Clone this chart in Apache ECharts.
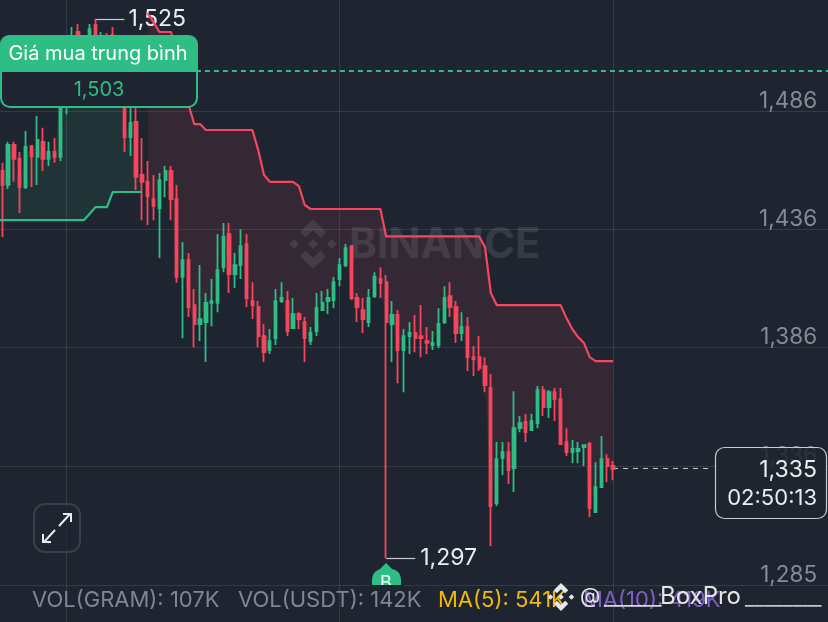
<!DOCTYPE html>
<html><head><meta charset="utf-8">
<style>html,body{margin:0;padding:0;background:#1e2530;overflow:hidden}#c{width:828px;height:622px}</style>
<script src="https://cdn.jsdelivr.net/npm/echarts@6/dist/echarts.min.js"></script>
</head><body><div id="c"></div>
<script>
// [open, close, low, high]; the first candle sits just off the left edge
const candles = [
[1463,1460.7,1452,1466],
[1460.7,1454.8,1432.8,1464.1],[1454.8,1471.7,1453.1,1473],[1471.7,1465.8,1456.1,1473],[1465.8,1453.9,1442.9,1468.7],
[1453.9,1470.8,1453.1,1477.6],[1471.2,1467,1453.9,1471.7],[1466.6,1473.8,1454.8,1483.9],[1473,1465.8,1460.7,1478.9],
[1465.8,1468.7,1462.8,1473],[1468.7,1466.6,1464.1,1474.6],[1466.6,1497.4,1464.9,1503.3],[1490.7,1497.4,1484.7,1500],
[1501.2,1515.2,1497,1521.5],[1519.4,1507.6,1503.3,1522.8],[1507.6,1513.9,1503.3,1516],[1513.9,1520.6,1509.7,1522.8],
[1522.3,1511.8,1506.7,1525],[1507.6,1516.8,1503.3,1519.4],[1517.3,1506.7,1501.2,1519],[1518.1,1505.4,1501.2,1521.5],
[1505.4,1497,1490.7,1509.7],[1494.9,1475,1468.7,1501.2],[1475,1481,1467,1492.8],[1481.4,1458.2,1452.6,1492.8],
[1459,1456.1,1439.9,1474.6],[1456.1,1450.1,1437.8,1464.9],[1448.8,1445.9,1439.9,1459],[1445,1456.8,1423.9,1459.8],
[1456.8,1460.7,1449.6,1462.8],[1460.7,1448.8,1439.9,1462.8],[1448.8,1415.9,1413.4,1454.8],[1415.9,1423,1390,1430.7],
[1423,1403.2,1399,1426],[1404,1396,1386.2,1410.8],[1396,1398.1,1388.8,1420.9],[1396.8,1404.9,1379.9,1409.1],
[1404.9,1405.7,1395.1,1415],[1404.9,1418.8,1401,1434],[1420,1432.8,1417.9,1438.7],[1434,1417.1,1409.1,1438.7],
[1417.1,1420.9,1411.2,1426],[1420.9,1428.9,1415,1436.1],[1429.8,1407,1403.2,1434],[1405.7,1404,1398.1,1413.7],
[1403.2,1390.9,1386.2,1405.7],[1390.9,1384.1,1379.9,1396],[1385,1388.8,1383.3,1393.9],[1390,1405.7,1387.1,1410.8],
[1405.7,1407,1404.9,1413.7],[1405.7,1393,1390.9,1409.9],[1394.3,1400.2,1393.9,1407],[1400.2,1398.1,1393.9,1401],
[1396.8,1390,1379.9,1399],[1388.8,1392.2,1387.1,1394.7],[1393,1402.7,1390.9,1409.1],[1401.9,1404.9,1401.9,1409.9],
[1405.7,1407,1400.2,1410.8],[1406.1,1413.7,1402.7,1415.9],[1415,1420.9,1412,1423.9],[1420.9,1428.1,1420,1429.8],
[1428.9,1407,1406.1,1428.9],[1407,1403.2,1396.8,1409.1],[1401.9,1398.1,1392.2,1407],[1396.8,1407,1394.7,1410.8],
[1407.8,1415.9,1407,1417.9],[1415,1413.4,1407,1420],[1413.7,1396.8,1297,1416.7],[1396,1399.8,1379.9,1405.7],
[1399.8,1385,1371,1401.9],[1385,1390.9,1367.2,1393.9],[1390.9,1392.2,1383.3,1396.8],[1392.2,1390,1384.1,1399.8],
[1390.9,1390,1382,1404],[1388.8,1388,1383.3,1394.7],[1387.1,1388,1385,1393],[1387.1,1396,1385.8,1402.7],
[1396.8,1407,1396,1412],[1407.8,1403.2,1399,1413.7],[1403.2,1392.2,1388,1405.7],[1392.2,1394.7,1388.8,1401],
[1394.7,1382,1376.1,1399],[1382,1381.2,1374,1386.7],[1382,1377.4,1376.1,1390.9],[1378.2,1370.2,1367.2,1382],
[1369,1319.1,1302.2,1374.9],[1320.3,1338.9,1319.1,1346.1],[1339.3,1341.9,1332.2,1346.1],[1341.9,1334.3,1328.4,1346.1],
[1335.1,1352,1325,1367.6],[1352,1354.1,1350.3,1357.1],[1354.6,1350.3,1346.1,1358],[1351.2,1355,1351.2,1358],
[1354.1,1368.1,1352,1369.8],[1368.1,1360.9,1357.1,1369.8],[1360.9,1367.2,1356.3,1368.1],[1367.2,1364.3,1355,1369],
[1364.3,1345.3,1345.3,1369],[1346.1,1341.9,1340.2,1352],[1341.9,1343.2,1337.2,1347],[1342.3,1343.2,1337.2,1346.1],
[1344,1344.8,1336,1344.8],[1345.3,1318.2,1314.4,1346.1],[1316.5,1327.1,1316.1,1337.6],[1327.1,1338.9,1327.1,1348.7],
[1338.9,1336,1329.2,1341],[1336,1334.7,1330,1338.1]
];
// green trailing line: first 26 candles
const greenLine = [1439.9,1439.9,1439.9,1439.9,1439.9,1439.9,1439.9,1439.9,1439.9,1439.9,1439.9,1439.9,1439.9,1439.9,1439.9,1439.9,
 1442.5,1445.4,1445.4,1445.4,1451.8,1451.8,1451.8,1451.8,1451.8,1451.8];
// red trailing line: remaining 81 candles
const redLine = [1527.4,1523.6,1519.4,1519.4,1519.4,1510.5,1499.9,1488.9,1480.5,1480.5,1478,
 1478,1478,1478,1478,1478,1478,1478,1478,1469.5,1459,1456.1,1456.1,1456.1,1456.1,1456.1,1454.3,1446.3,
 1444.6,1444.6,1444.6,1444.6,1444.6,1444.6,1444.6,1444.6,1444.6,1444.6,1444.6,1444.6,1444.6,
 1433,1433,1433,1433,1433,1433,1433,1433,1433,1433,1433,1433,1433,1433,1433,1433,1433,
 1428.5,1409.1,1404,1404,1404,1404,1404,1404,1404,1404,1404,1404,1404,1404,
 1398.5,1393.9,1390.5,1388,1382,1380.3,1380.3,1380.3,1380.3];
const redStart = greenLine.length;
const slotCount = 144;
const categories = Array.from({length: slotCount}, (_, i) => String(i));
const verticalGrid = [12, 59, 106];
const yTicks = [1285.7, 1336, 1386, 1436, 1486];
const yTickLabels = ['1,285', '1,336', '1,386', '1,436', '1,486'];
const avgPrice = 1503, highPrice = 1525, lowPrice = 1297, lastPrice = 1335;
const volumeItems = [
  {t:'VOL(GRAM): 107K', x:32, c:'#7f8794'},
  {t:'VOL(USDT): 142K', x:238, c:'#7f8794'},
  {t:'MA(5): 541K', x:438, c:'#f0b90b'},
  {t:'MA(10): 419K', x:583, c:'#7e5fc4'}
];
const FONT = 'Inter, "Noto Sans", sans-serif';
const BG = '#1e2530', GREEN = '#2ebd85', RED = '#f6465d';

const closes = candles.map(c => c[1]);
const pad = n => new Array(n).fill(null);
const greenBase = greenLine.slice();
const greenDiff = greenLine.map((v, i) => closes[i] - v);
const redOffset = pad(redStart);
const redBase = redOffset.concat(redLine.map((v, i) => closes[i + redStart]));
const redDiff = redOffset.concat(redLine.map((v, i) => v - closes[i + redStart]));
const redFull = redOffset.concat(redLine);

function logo(cx, cy, r, fill, z) {
  const shapes = [
    [[0,-1],[.52,-.48],[.3,-.26],[0,-.56],[-.3,-.26],[-.52,-.48]],
    [[0,1],[.52,.48],[.3,.26],[0,.56],[-.3,.26],[-.52,.48]],
    [[0,-.2],[.2,0],[0,.2],[-.2,0]],
    [[-.75,-.2],[-.55,0],[-.75,.2],[-.95,0]],
    [[.75,-.2],[.95,0],[.75,.2],[.55,0]]
  ];
  return shapes.map(s => ({type:'polygon', silent:true, z,
    shape:{points:s.map(p => [cx + p[0]*r, cy + p[1]*r])}, style:{fill}}));
}
const txt = (text, x, y, size, fill, align, z, extra) => ({type:'text', silent:true, z, x, y,
  style:Object.assign({text, fill, font:`${size}px ${FONT}`, align:align||'left', verticalAlign:'middle'}, extra||{})});

const graphics = [
  ...logo(313, 244, 25, 'rgba(255,255,255,0.1)', 1),
  txt('BINANCE', 349, 245, 42, 'rgba(255,255,255,0.1)', 'left', 1, {font:`700 42px ${FONT}`}),
  // buy marker
  {type:'polygon', silent:true, z:5, shape:{points:[[379,570],[386,563],[393,570]]}, style:{fill:GREEN}},
  {type:'rect', silent:true, z:5, shape:{x:372,y:569,width:29,height:20,r:[10,10,0,0]}, style:{fill:GREEN}},
  txt('B', 386, 584, 18, '#fff', 'center', 6),
  {type:'rect', silent:true, z:7, shape:{x:370,y:585,width:34,height:14}, style:{fill:BG}},
  // volume legend
  ...volumeItems.map(v => txt(v.t, v.x, 600, 22, v.c, 'left', 8)),
  // re-post overlay
  ...logo(561, 597, 14, '#e8e8e8', 9),
  txt('@', 580, 597, 21, '#e8e8e8', 'left', 9),
  txt('______', 604, 599, 21, '#dddddd', 'left', 9),
  txt('BoxPro', 660, 597, 24, '#e4e4e4', 'left', 9),
  txt('________', 745, 599, 21, '#c9c9c9', 'left', 9),
  // expand button
  {type:'rect', silent:true, z:8, shape:{x:34,y:504,width:46,height:48,r:11}, style:{fill:'rgba(30,37,48,.6)', stroke:'#3a404b', lineWidth:2}},
  {type:'polyline', silent:true, z:9, shape:{points:[[59,526],[70,514]]}, style:{stroke:'#eaecef', lineWidth:2, fill:null}},
  {type:'polyline', silent:true, z:9, shape:{points:[[63,514],[71,514],[71,522]]}, style:{stroke:'#eaecef', lineWidth:2, fill:null}},
  {type:'polyline', silent:true, z:9, shape:{points:[[55,530],[44,542]]}, style:{stroke:'#eaecef', lineWidth:2, fill:null}},
  {type:'polyline', silent:true, z:9, shape:{points:[[43,534],[43,542],[51,542]]}, style:{stroke:'#eaecef', lineWidth:2, fill:null}},
  // average-price card
  {type:'rect', silent:true, z:20, shape:{x:1,y:60,width:196,height:47,r:[0,0,9,9]}, style:{fill:BG, stroke:GREEN, lineWidth:2}},
  {type:'rect', silent:true, z:21, shape:{x:0,y:35,width:198,height:37,r:[9,9,0,0]}, style:{fill:GREEN}},
  txt('Giá mua trung bình', 98, 54, 20, '#ffffff', 'center', 22),
  txt('1,503', 99, 90, 20, GREEN, 'center', 22),
  // last-price card
  {type:'rect', silent:true, z:20, shape:{x:715.5,y:447.5,width:111,height:71,r:9}, style:{fill:'rgba(30,37,48,.86)', stroke:'#c7cbd1', lineWidth:1.2}},
  txt('1,335', 817, 470, 23, '#eaecef', 'right', 22),
  txt('02:50:13', 817, 498, 22, '#eaecef', 'right', 22)
];

const chart = echarts.init(document.getElementById('c'), null, {renderer:'canvas'});
chart.setOption({
  animation:false,
  backgroundColor:BG,
  grid:{left:-6.416, top:0, width:837.5, height:622, containLabel:false, outerBoundsMode:'none'},
  xAxis:{type:'category', data:categories, boundaryGap:true,
    axisLine:{show:false}, axisLabel:{show:false}, axisTick:{show:false},
    splitLine:{show:true, alignWithLabel:true, interval:(i) => verticalGrid.includes(i),
      lineStyle:{color:'rgba(255,255,255,0.1)', width:1}}},
  yAxis:{type:'value', position:'right', min:1270.07, max:1532.93, scale:true,
    axisLine:{show:false},
    axisTick:{show:false, customValues:yTicks},
    axisLabel:{inside:true, margin:14, customValues:yTicks, color:'#848b97', fontSize:22.5, fontFamily:FONT,
      verticalAlign:'bottom', align:'right', lineHeight:20,
      formatter:(v) => yTickLabels[yTicks.indexOf(v)]},
    splitLine:{show:true, lineStyle:{color:'rgba(255,255,255,0.1)', width:1}}},
  graphic:graphics,
  series:[
    {name:'greenBase', type:'line', stack:'g', data:greenBase, showSymbol:false, silent:true, lineStyle:{opacity:0}, z:2},
    {name:'greenFill', type:'line', stack:'g', data:greenDiff, showSymbol:false, silent:true, lineStyle:{opacity:0},
      areaStyle:{color:'rgba(46,189,133,0.14)'}, z:2},
    {name:'redBase', type:'line', stack:'r', data:redBase, showSymbol:false, silent:true, lineStyle:{opacity:0}, z:2},
    {name:'redFill', type:'line', stack:'r', data:redDiff, showSymbol:false, silent:true, lineStyle:{opacity:0},
      areaStyle:{color:'rgba(246,70,93,0.14)'}, z:2},
    {name:'price', type:'candlestick', data:candles, barWidth:2.8, z:3, silent:true,
      itemStyle:{color:GREEN, color0:RED, borderColor:GREEN, borderColor0:RED, borderWidth:1.8},
      markLine:{silent:true, symbol:'none', animation:false, z:3, precision:1, data:[
        [{coord:[17, highPrice], lineStyle:{color:'#c7cbd1', width:1.2, type:'solid'},
          label:{show:true, position:'end', formatter:'1,525', color:'#eaecef', fontSize:23, fontFamily:FONT, distance:4}},
         {coord:[22, highPrice]}],
        [{coord:[67, lowPrice], lineStyle:{color:'#c7cbd1', width:1.2, type:'solid'},
          label:{show:true, position:'end', formatter:'1,297', color:'#eaecef', fontSize:23, fontFamily:FONT, distance:5}},
         {coord:[72, lowPrice]}],
        [{coord:[106, lastPrice], lineStyle:{color:'#c7cbd1', width:1.2, type:[5,5]}, label:{show:false}},
         {coord:[123.4, lastPrice]}],
        [{coord:[25, avgPrice], lineStyle:{color:GREEN, width:2, type:[5,4]}, label:{show:false}},
         {coord:[143, avgPrice]}]
      ]}},
    {name:'greenLine', type:'line', data:greenLine, showSymbol:false, silent:true, z:4,
      lineStyle:{color:GREEN, width:2.2}},
    {name:'redLine', type:'line', data:redFull, showSymbol:false, silent:true, z:4,
      lineStyle:{color:RED, width:2.2}}
  ]
});
</script></body></html>
